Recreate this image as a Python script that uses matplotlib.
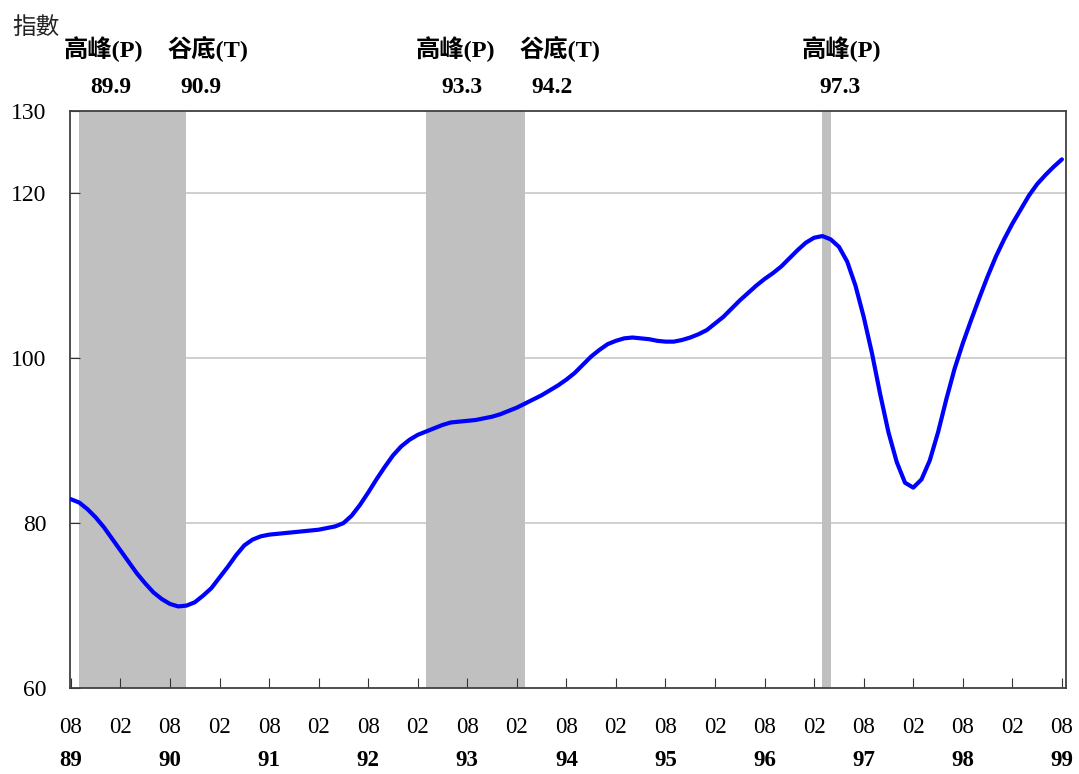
import matplotlib
matplotlib.use("Agg")
import matplotlib.pyplot as plt

# monthly index values, 89/08 .. 99/08
index_values = [
    82.9, 82.5, 81.7, 80.7, 79.5, 78.1, 76.7, 75.3, 73.9, 72.7,
    71.6, 70.8, 70.2, 69.9, 70.0, 70.4, 71.2, 72.1, 73.4, 74.7,
    76.1, 77.3, 78.0, 78.4, 78.6, 78.7, 78.8, 78.9, 79.0, 79.1,
    79.2, 79.4, 79.6, 80.0, 80.9, 82.2, 83.7, 85.3, 86.8, 88.2,
    89.3, 90.1, 90.7, 91.1, 91.5, 91.9, 92.2, 92.3, 92.4, 92.5,
    92.7, 92.9, 93.2, 93.6, 94.0, 94.5, 95.0, 95.5, 96.1, 96.7,
    97.4, 98.2, 99.2, 100.2, 101.0, 101.7, 102.1, 102.4, 102.5, 102.4,
    102.3, 102.1, 102.0, 102.0, 102.2, 102.5, 102.9, 103.4, 104.2, 105.0,
    106.0, 107.0, 107.9, 108.8, 109.6, 110.3, 111.1, 112.1, 113.1, 114.0,
    114.6, 114.8, 114.4, 113.5, 111.7, 108.8, 105.0, 100.6, 95.6, 91.0,
    87.4, 84.9, 84.3, 85.3, 87.6, 91.0, 95.0, 98.7, 101.8, 104.6,
    107.3, 109.9, 112.3, 114.4, 116.3, 118.0, 119.7, 121.1, 122.2, 123.2,
    124.1,
]
month_labels = ["08", "02"] * 10 + ["08"]
year_labels = ["89", "90", "91", "92", "93", "94", "95", "96", "97", "98", "99"]
y_ticks = [60, 80, 100, 120, 130]

turn_names = ["高峰(P)", "谷底(T)", "高峰(P)", "谷底(T)", "高峰(P)"]
turn_dates = ["89.9", "90.9", "93.3", "94.2", "97.3"]


def to_idx(d):
    yy, mm = d.split(".")
    return (int(yy) - 89) * 12 + int(mm) - 8


serif = ["Liberation Serif", "Noto Sans CJK TC"]

fig = plt.figure(figsize=(10.79, 7.74), dpi=100)
ax = fig.add_axes([0.0649, 0.111, 0.9231, 0.746])

x = list(range(len(index_values)))

# shaded recessions: peak -> trough (last one only a peak month)
turn_idx = [to_idx(d) for d in turn_dates]
spans = [(turn_idx[0], turn_idx[1] + 1), (turn_idx[2], turn_idx[3] + 1),
         (turn_idx[4], turn_idx[4] + 1)]
for a, b in spans:
    ax.axvspan(a, b, color="#c0c0c0", lw=0, zorder=1)

for v in [80, 100, 120]:
    ax.axhline(v, color="#c8c8c8", lw=1.2, zorder=0)

ax.plot(x, index_values, color="#0000ff", lw=3, zorder=3,
        solid_capstyle="round", solid_joinstyle="round")

ax.set_xlim(-0.1, 120.5)
ax.set_ylim(60, 130)

ax.set_xticks(range(0, 121, 6))
ax.set_xticklabels(month_labels, fontfamily=serif, fontsize=16.5)
ax.set_yticks(y_ticks)
ax.set_yticklabels([str(v) for v in y_ticks], fontfamily=serif, fontsize=17)
ax.tick_params(axis="x", direction="in", length=7, pad=21, color="#333333")
ax.tick_params(axis="y", direction="in", length=7, pad=17, color="#333333")

for i, yl in enumerate(year_labels):
    ax.text(i * 12, -0.126, yl, transform=ax.get_xaxis_transform(),
            ha="center", va="center", fontsize=16.5, fontweight="bold",
            fontfamily=serif)

for s in ax.spines.values():
    s.set_color("#404040")
    s.set_linewidth(1.3)

# turning-point labels above the plot
name_x = [4.0, 16.6, 46.6, 59.2, 93.3]
date_x = [4.8, 15.7, 47.4, 58.2, 93.1]
for nm, d, nx, dx in zip(turn_names, turn_dates, name_x, date_x):
    ax.text(nx, 1.106, nm, transform=ax.get_xaxis_transform(), ha="center",
            va="center", fontsize=17.5, fontweight="bold", fontfamily=serif)
    ax.text(dx, 1.040, d, transform=ax.get_xaxis_transform(), ha="center",
            va="center", fontsize=17, fontweight="bold", fontfamily=serif)

fig.text(0.011, 0.965, "指數", ha="left", va="center", fontsize=17,
         fontfamily=["Noto Sans CJK TC", "DejaVu Sans"], color="#222222")

fig.savefig("out.png", dpi=100)
